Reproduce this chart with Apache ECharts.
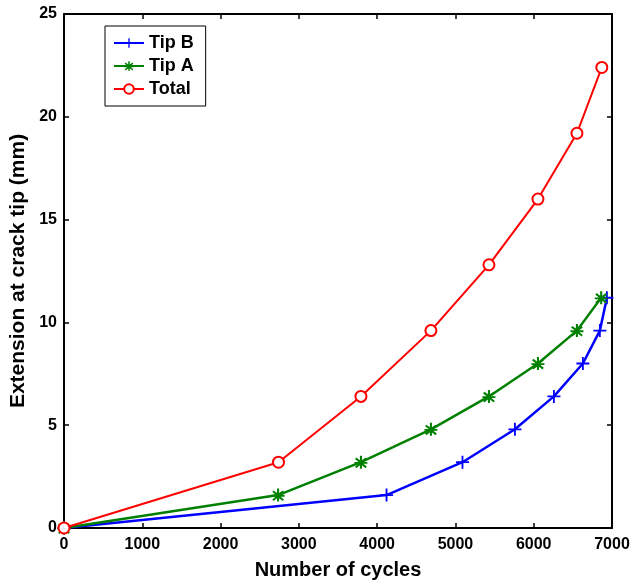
<!DOCTYPE html>
<html>
<head>
<meta charset="utf-8">
<script src="https://cdn.jsdelivr.net/npm/echarts@6/dist/echarts.min.js"></script>
<style>
  html, body { margin: 0; padding: 0; background: #fff; }
  #chart { width: 632px; height: 588px; }
</style>
</head>
<body>
<div id="chart"></div>
<script>
// values
const tipBCycles = [0, 4120, 5090, 5760, 6258, 6628, 6845, 6935]
const tipBExt = [0, 1.6, 3.2, 4.8, 6.4, 8.0, 9.6, 11.2]
const tipACycles = [0, 2735, 3793, 4687, 5428, 6054, 6552, 6862]
const tipAExt = [0, 1.6, 3.2, 4.8, 6.4, 8.0, 9.6, 11.2]
const totalCycles = [0, 2740, 3793, 4687, 5428, 6054, 6552, 6870]
const totalExt = [0, 3.2, 6.4, 9.6, 12.8, 16.0, 19.2, 22.4]

const pairs = (xs, ys) => xs.map((x, i) => [x, ys[i]])

const PLUS = 'path://M4.3,0H5.7V4.3H10V5.7H5.7V10H4.3V5.7H0V4.3H4.3Z'
const STAR = 'path://M4.2,0H5.8V3.4L8.6,1.4L9.5,2.7L6.7,4.8L10,4.8V6.2L6.9,6.2L9.5,8.3L8.6,9.6L5.8,7.4V10H4.2V7.4L1.4,9.6L0.5,8.3L3.1,6.2L0,6.2V4.8L3.3,4.8L0.5,2.7L1.4,1.4L4.2,3.4Z'

const font = 'Liberation Sans, Arial, sans-serif'

const chart = echarts.init(document.getElementById('chart'))

const axisCommon = {
  axisLine: { show: true, onZero: false, lineStyle: { color: '#000', width: 2 } },
  axisTick: { show: true, inside: true, length: 5, lineStyle: { color: '#000', width: 1.5 } },
  splitLine: { show: false }
}
const tickText = { fontFamily: font, fontWeight: 'bold', fontSize: 16, color: '#000' }

chart.setOption({
  animation: false,
  backgroundColor: '#fff',
  grid: { left: 64, right: 20, top: 14, bottom: 60, outerBoundsMode: 'none' },
  legend: {
    orient: 'vertical',
    left: 105,
    top: 26,
    itemWidth: 30,
    itemHeight: 12,
    itemGap: 3,
    padding: [7, 12, 7, 8],
    borderColor: '#000',
    borderWidth: 1,
    backgroundColor: '#fff',
    textStyle: { fontFamily: font, fontWeight: 'bold', fontSize: 18, lineHeight: 20, color: '#000' },
    data: ['Tip B', 'Tip A', 'Total']
  },
  xAxis: [{
    ...axisCommon,
    type: 'value', min: 0, max: 7000, interval: 1000,
    name: 'Number of cycles', nameLocation: 'middle', nameGap: 32,
    nameTextStyle: { fontFamily: font, fontWeight: 'bold', fontSize: 20, color: '#000' },
    axisLabel: { ...tickText, margin: 9, formatter: v => String(v) }
  }, {
    ...axisCommon,
    type: 'value', min: 0, max: 7000, interval: 1000, position: 'top',
    axisLabel: { show: false }
  }],
  yAxis: [{
    ...axisCommon,
    type: 'value', min: 0, max: 25, interval: 5,
    name: 'Extension at crack tip (mm)', nameLocation: 'middle', nameGap: 34,
    nameTextStyle: { fontFamily: font, fontWeight: 'bold', fontSize: 21, color: '#000' },
    axisLabel: { ...tickText, margin: 7, formatter: v => String(v) }
  }, {
    ...axisCommon,
    type: 'value', min: 0, max: 25, interval: 5, position: 'right',
    axisLabel: { show: false }
  }],
  series: [{
    name: 'Tip B', type: 'line', data: pairs(tipBCycles, tipBExt),
    symbol: PLUS, symbolSize: 13, showAllSymbol: true,
    lineStyle: { color: '#0000ff', width: 2.5 },
    itemStyle: { color: '#0000ff' }
  }, {
    name: 'Tip A', type: 'line', data: pairs(tipACycles, tipAExt),
    symbol: STAR, symbolSize: 13, showAllSymbol: true,
    lineStyle: { color: '#008000', width: 2.5 },
    itemStyle: { color: '#008000' }
  }, {
    name: 'Total', type: 'line', data: pairs(totalCycles, totalExt),
    symbol: 'emptyCircle', symbolSize: 11, showAllSymbol: true,
    lineStyle: { color: '#ff0000', width: 2 },
    itemStyle: { color: '#ff0000', borderColor: '#ff0000', borderWidth: 2 }
  }]
})
</script>
</body>
</html>
